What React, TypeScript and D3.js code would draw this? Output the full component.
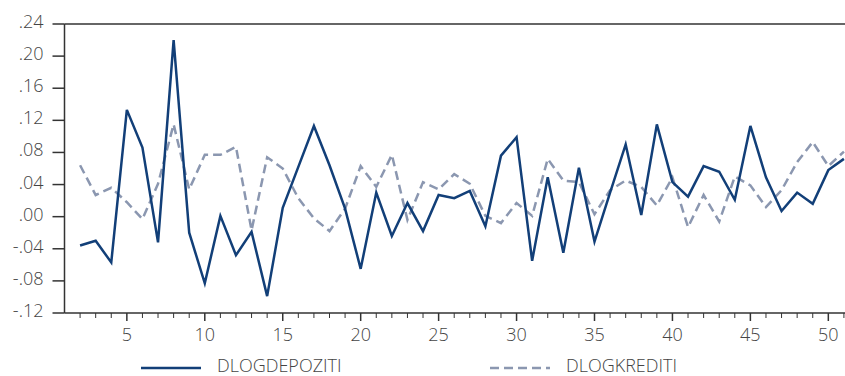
import React, { useEffect, useRef } from 'react';
import * as d3 from 'd3';

// observations 2..51
const periods = d3.range(2, 52);

const dlogDepoziti = [
  -0.036, -0.030, -0.057, 0.133, 0.086, -0.032, 0.220, -0.020, -0.083, 0.001,
  -0.048, -0.019, -0.099, 0.011, 0.062, 0.113, 0.064, 0.010, -0.065, 0.030,
  -0.024, 0.017, -0.018, 0.027, 0.023, 0.032, -0.012, 0.076, 0.099, -0.055,
  0.049, -0.045, 0.061, -0.031, 0.030, 0.090, 0.002, 0.115, 0.043, 0.025,
  0.063, 0.056, 0.021, 0.113, 0.049, 0.007, 0.030, 0.016, 0.058, 0.072,
];

const dlogKrediti = [
  0.064, 0.027, 0.036, 0.018, -0.003, 0.041, 0.115, 0.034, 0.077, 0.077,
  0.087, -0.017, 0.074, 0.060, 0.023, -0.002, -0.018, 0.010, 0.063, 0.037,
  0.077, -0.004, 0.043, 0.034, 0.053, 0.041, 0.001, -0.008, 0.017, 0.001,
  0.072, 0.045, 0.043, 0.003, 0.033, 0.045, 0.037, 0.014, 0.049, -0.013,
  0.027, -0.006, 0.050, 0.039, 0.012, 0.033, 0.068, 0.093, 0.063, 0.081,
];

const yTicks = [-0.12, -0.08, -0.04, 0, 0.04, 0.08, 0.12, 0.16, 0.2, 0.24];
const xTicks = [5, 10, 15, 20, 25, 30, 35, 40, 45, 50];

const seriesNames = ['DLOGDEPOZITI', 'DLOGKREDITI'];

const fmtY = (v: number) => {
  const s = Math.abs(v).toFixed(2).replace(/^0/, '');
  return v < -1e-9 ? '-' + s : s;
};

const App = () => {
  const svgRef = useRef<SVGSVGElement | null>(null);

  useEffect(() => {
    const width = 845;
    const height = 376;
    const svg = d3.select(svgRef.current).attr('width', width).attr('height', height);
    svg.selectAll('*').remove();

    const font = '"Open Sans", "Noto Sans", sans-serif';
    const textColor = '#444';
    const axisColor = '#333';

    const x = d3.scaleLinear().domain([1, 52]).range([64.5, 859.5]);
    const y = d3.scaleLinear().domain([-0.12, 0.24]).range([313, 24]);

    const txt = (sel: any) =>
      sel.style('font-family', font).style('font-size', '18px').style('font-weight', 300)
        .style('fill', textColor);

    // frame: top, left, bottom
    svg.append('line').attr('x1', x(1)).attr('x2', width).attr('y1', y(0.24)).attr('y2', y(0.24))
      .attr('stroke', axisColor).attr('stroke-width', 1.5);
    svg.append('line').attr('x1', x(1)).attr('x2', x(1)).attr('y1', y(0.24)).attr('y2', y(-0.12))
      .attr('stroke', axisColor).attr('stroke-width', 1.5);
    svg.append('line').attr('x1', x(1)).attr('x2', width).attr('y1', y(-0.12)).attr('y2', y(-0.12))
      .attr('stroke', axisColor).attr('stroke-width', 1.5);

    // y ticks
    const yg = svg.append('g');
    yTicks.forEach(t => {
      yg.append('line').attr('x1', x(1) - 12).attr('x2', x(1)).attr('y1', y(t)).attr('y2', y(t))
        .attr('stroke', axisColor).attr('stroke-width', 1.5);
      txt(yg.append('text').attr('x', x(1) - 21).attr('y', y(t) + 4)
        .attr('text-anchor', 'end')).text(fmtY(t));
    });

    // x ticks: minor each period, major at labels
    const xg = svg.append('g');
    d3.range(2, 52).forEach(t => {
      const major = t % 5 === 0;
      xg.append('line').attr('x1', x(t)).attr('x2', x(t)).attr('y1', y(-0.12))
        .attr('y2', y(-0.12) + (major ? 8 : 5))
        .attr('stroke', axisColor).attr('stroke-width', major ? 1.5 : 1);
    });
    xTicks.forEach(t => {
      txt(xg.append('text').attr('x', x(t)).attr('y', 341).attr('text-anchor', 'middle'))
        .text(String(t));
    });

    const line = d3.line<number>()
      .x((_, i) => x(periods[i]))
      .y(d => y(d));

    svg.append('path').datum(dlogKrediti).attr('d', line).attr('fill', 'none')
      .attr('stroke', '#8b97b0').attr('stroke-width', 2.5).attr('stroke-dasharray', '9,5');
    svg.append('path').datum(dlogDepoziti).attr('d', line).attr('fill', 'none')
      .attr('stroke', '#123f78').attr('stroke-width', 2.5).attr('stroke-linejoin', 'miter');

    // legend
    const legend = [
      { name: seriesNames[0], x0: 141, color: '#123f78', dash: null },
      { name: seriesNames[1], x0: 490, color: '#8b97b0', dash: '9,5' },
    ];
    legend.forEach(l => {
      svg.append('line').attr('x1', l.x0).attr('x2', l.x0 + 60).attr('y1', 368).attr('y2', 368)
        .attr('stroke', l.color).attr('stroke-width', 2.5).attr('stroke-dasharray', l.dash);
      txt(svg.append('text').attr('x', l.x0 + 76).attr('y', 372)).text(l.name);
    });
  }, []);

  return (
    <div style={{ position: 'absolute', left: 0, top: 0, width: 845, height: 376, overflow: 'hidden', background: '#fff' }}>
      <svg ref={svgRef} style={{ display: 'block' }}></svg>
    </div>
  );
};

export default App;
